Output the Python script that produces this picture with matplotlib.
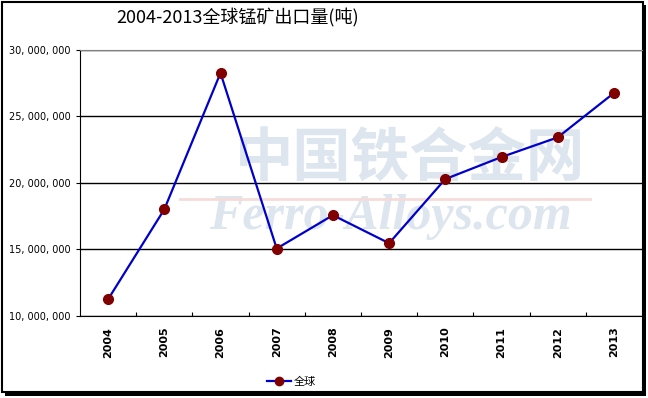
import matplotlib
matplotlib.use("Agg")
import matplotlib.pyplot as plt
from matplotlib.patches import Rectangle
from matplotlib.lines import Line2D

plt.rcParams['font.family'] = ['Noto Sans CJK SC', 'DejaVu Sans']

# data (tonnes)
years = ['2004', '2005', '2006', '2007', '2008', '2009', '2010', '2011', '2012', '2013']
exports = [11230000, 18000000, 28270000, 15050000, 17560000,
           15450000, 20280000, 21940000, 23420000, 26760000]
yticks = [10000000, 15000000, 20000000, 25000000, 30000000]
ytick_labels = ['10, 000, 000', '15, 000, 000', '20, 000, 000', '25, 000, 000', '30, 000, 000']

W, H = 648, 398
fig = plt.figure(figsize=(W / 100, H / 100), dpi=100)

# outer frame with shadow
fig.patches.append(Rectangle((5 / W, 1 - 396 / H), 641 / W, 391 / H, transform=fig.transFigure,
                             facecolor='black', edgecolor='none', zorder=0))
fig.patches.append(Rectangle((2 / W, 1 - 392 / H), 641 / W, 390 / H, transform=fig.transFigure,
                             facecolor='white', edgecolor='black', linewidth=1.5, zorder=1))

ax = fig.add_axes([80 / W, 1 - 315.6 / H, 562 / W, 265.6 / H])
ax.set_zorder(2)
ax.patch.set_alpha(0)

# watermark
ax.text(0.587, 0.586, '中国铁合金网', transform=ax.transAxes, fontsize=42, fontweight='bold',
        color='#dde5ef', ha='center', va='center', zorder=0)
ax.text(0.552, 0.371, 'Ferro-Alloys.com', transform=ax.transAxes, fontsize=36, fontweight='bold',
        fontstyle='italic', family='Liberation Serif', color='#dde5ef', ha='center', va='center', zorder=0)
ax.plot([0.178, 0.907], [0.44, 0.44], transform=ax.transAxes, color='#f6dcd8', lw=2, zorder=0)

x = range(len(years))
ax.plot(x, exports, color='#0000cc', lw=1.6, marker='o', markersize=7,
        markerfacecolor='#800000', markeredgecolor='#800000', zorder=3)

ax.set_xlim(-0.5, len(years) - 0.5)
ax.set_ylim(10000000, 30000000)
ax.set_yticks(yticks)
ax.set_yticklabels(ytick_labels, fontsize=7, family='DejaVu Sans')
ax.yaxis.grid(True, color='black', lw=1)
ax.set_axisbelow(True)

ax.set_xticks([i + 0.5 for i in range(len(years) - 1)])
ax.set_xticklabels([])
ax.set_xticks(list(x), minor=True)
ax.set_xticklabels(years, minor=True, rotation=90, fontsize=8, fontweight='bold', family='DejaVu Sans')
ax.tick_params(axis='x', which='major', direction='in', length=3, color='black')
ax.tick_params(axis='x', which='minor', length=0, pad=8)
ax.tick_params(axis='y', length=3, pad=4)

ax.spines['top'].set_color('#808080')
ax.spines['right'].set_visible(False)
ax.spines['left'].set_color('black')
ax.spines['bottom'].set_color('black')

fig.text(238 / W, 1 - 18 / H, '2004-2013全球锰矿出口量(吨)', fontsize=13, ha='center', va='center')

handle = Line2D([], [], color='#0000cc', lw=1.6, marker='o', markersize=6,
                markerfacecolor='#800000', markeredgecolor='#800000')
fig.legend([handle], ['全球'], loc='center', bbox_to_anchor=(291 / W, 1 - 382 / H),
           frameon=False, fontsize=8, handlelength=2.2, handletextpad=0.2)

fig.savefig('out.png', dpi=100)
